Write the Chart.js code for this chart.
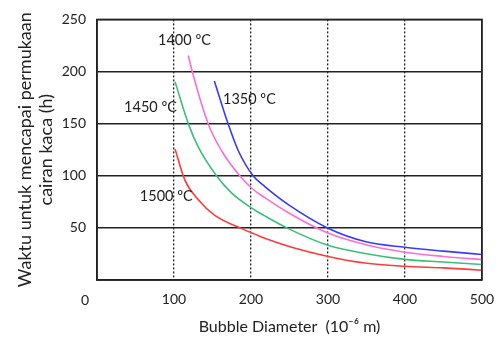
<!DOCTYPE html>
<html lang="id">
<head>
    <meta charset="UTF-8">
    <title>Waktu vs Bubble Diameter</title>
    <script src="https://cdn.jsdelivr.net/npm/chart.js"></script>
    <style>
        body { margin: 0; background: #fff; }
        #wrap { width: 500px; height: 341px; }
    </style>
</head>
<body>
<div id="wrap"><canvas id="chartCanvas" width="500" height="341"></canvas></div>

<script>
// data (x = bubble diameter, y = hours)
const x1350 = [152.4, 170.5, 183.5, 203, 218, 248.5, 300, 348, 400, 450, 500];
const y1350 = [190.9, 149.4, 124, 99.7, 89.6, 72.3, 49.7, 37, 31.4, 27.7, 24.5];
const x1400 = [118.6, 123.8, 144.6, 161.8, 185.7, 200.9, 218, 248.5, 300, 348, 400, 450, 500];
const y1400 = [215.4, 199.7, 149.4, 124, 99.7, 88, 79, 64.5, 45, 34, 26.7, 22.6, 19.5];
const x1450 = [101.3, 118.6, 131.6, 155.4, 175, 200.9, 218, 248.5, 300, 348, 400, 450, 500];
const y1450 = [190.3, 150, 127.4, 99.7, 83.3, 69, 61.5, 49.3, 33.3, 25.5, 19.8, 17.3, 14.8];
const x1500 = [101.3, 114, 131.6, 153, 188, 205, 218, 252.8, 300, 348, 400, 450, 500];
const y1500 = [125.8, 96, 77, 62, 49.3, 44, 40, 31.4, 22.6, 16.3, 13.2, 11.6, 9.4];

const seriesNames = ['1350 ºC', '1400 ºC', '1450 ºC', '1500 ºC'];
const seriesColors = ['#3a3aff', '#ff6fd2', '#3cbf78', '#ff3c3c'];

// where each curve label sits, in data units
const labelX = [163.6, 113.6, 69.5, 90];
const labelY = [173.6, 229.5, 166, 80];
const labelAlign = ['left', 'center', 'center', 'center'];

const xTicks = [0, 100, 200, 300, 400, 500];
const yTicks = [0, 50, 100, 150, 200, 250];

function toPoints(xs, ys) {
    return xs.map((x, i) => ({ x: x, y: ys[i] }));
}

const allX = [x1350, x1400, x1450, x1500];
const allY = [y1350, y1400, y1450, y1500];

const frameAndLabels = {
    id: 'frameAndLabels',
    afterDatasetsDraw(chart) {
        const ctx = chart.ctx;
        const a = chart.chartArea;
        const sx = chart.scales.x, sy = chart.scales.y;
        ctx.save();
        ctx.strokeStyle = '#222';
        ctx.lineWidth = 1.5;
        ctx.setLineDash([]);
        ctx.strokeRect(a.left, a.top, a.right - a.left, a.bottom - a.top);

        ctx.font = '14.5px Lato';
        ctx.fillStyle = '#222';
        ctx.textBaseline = 'middle';
        seriesNames.forEach((name, i) => {
            ctx.textAlign = labelAlign[i];
            ctx.fillText(name, sx.getPixelForValue(labelX[i]), sy.getPixelForValue(labelY[i]));
        });

        // the origin label sits a bit left of the corner, like the original
        ctx.font = '14px Lato';
        ctx.textAlign = 'center';
        ctx.fillText('0', sx.getPixelForValue(0) - 12, a.bottom + 20);
        ctx.restore();
    }
};

new Chart(document.getElementById('chartCanvas'), {
    type: 'scatter',
    data: {
        datasets: seriesNames.map((name, i) => ({
            label: name,
            data: toPoints(allX[i], allY[i]),
            showLine: true,
            borderColor: seriesColors[i],
            backgroundColor: seriesColors[i],
            borderWidth: 1.6,
            pointRadius: 0,
            cubicInterpolationMode: 'monotone'
        }))
    },
    options: {
        responsive: false,
        animation: false,
        layout: { padding: { left: 0, right: 18, top: 15, bottom: 0 } },
        plugins: {
            legend: { display: false },
            tooltip: { enabled: false }
        },
        scales: {
            x: {
                type: 'linear',
                min: 0,
                max: 500,
                afterBuildTicks: (scale) => { scale.ticks = xTicks.map(v => ({ value: v })); },
                afterFit: (scale) => {
                    scale.height = 61;
                    scale.paddingLeft = 0;
                    scale.paddingRight = 0;
                },
                ticks: {
                    padding: 11,
                    color: '#222',
                    font: { family: 'Lato', size: 14 },
                    callback: (v) => v === 0 ? '' : v
                },
                grid: { color: '#222', lineWidth: 1.3, drawTicks: false },
                border: {
                    color: '#222',
                    width: 1.5,
                    dash: (c) => (c.type === 'tick' && c.tick && c.tick.value > 0 && c.tick.value < 500) ? [2, 2] : []
                },
                title: {
                    display: true,
                    text: 'Bubble Diameter  (10⁻⁶ m)',
                    color: '#222',
                    font: { family: 'Lato', size: 16, lineHeight: 1.2 },
                    padding: { top: 0, bottom: 4.4 }
                }
            },
            y: {
                min: 0,
                max: 250,
                afterBuildTicks: (scale) => { scale.ticks = yTicks.map(v => ({ value: v })); },
                afterFit: (scale) => { scale.width = 97; },
                ticks: {
                    padding: 11,
                    color: '#222',
                    font: { family: 'Lato', size: 14 },
                    callback: (v) => v === 0 ? '' : v
                },
                grid: { color: '#222', lineWidth: 1.5, drawTicks: false },
                border: { color: '#222', width: 1.5 },
                title: {
                    display: true,
                    text: ['Waktu untuk mencapai permukaan', 'cairan kaca (h)'],
                    color: '#222',
                    font: { family: 'Lato', size: 18, lineHeight: 1.17 },
                    padding: { top: 14.5, bottom: 0 }
                }
            }
        }
    },
    plugins: [frameAndLabels]
});
</script>
</body>
</html>
